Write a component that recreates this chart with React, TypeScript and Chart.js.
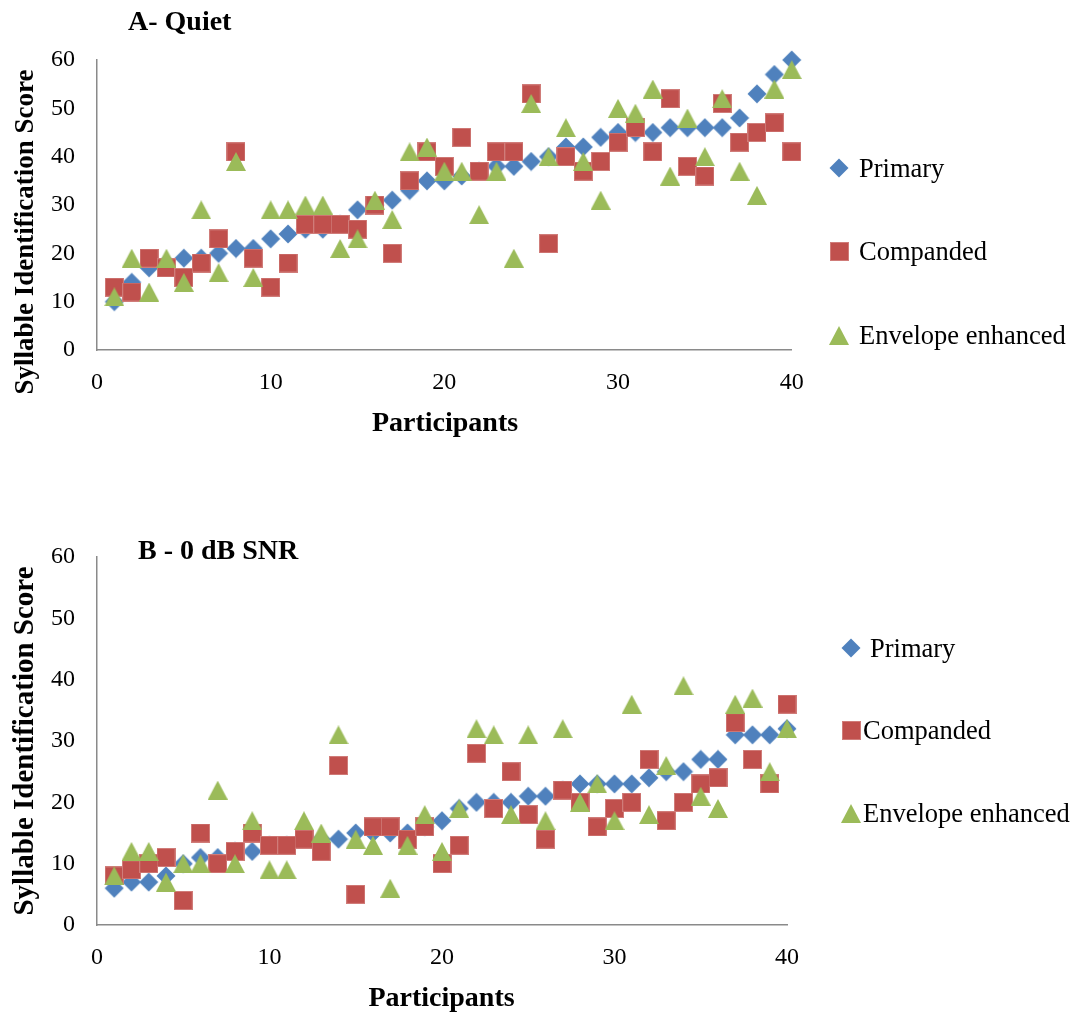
import React, { useEffect, useRef } from "react";
import { Chart, registerables } from "chart.js";

Chart.register(...registerables);

// ---------- data ----------
const participants = [
  1, 2, 3, 4, 5, 6, 7, 8, 9, 10, 11, 12, 13, 14, 15, 16, 17, 18, 19, 20,
  21, 22, 23, 24, 25, 26, 27, 28, 29, 30, 31, 32, 33, 34, 35, 36, 37, 38, 39, 40,
];

const seriesNames = ["Primary", "Companded", "Envelope enhanced"];

// A - Quiet
const quietPrimary = [
  10, 14, 17, 18, 19, 19, 20, 21, 21, 23, 24, 25, 25, 26, 29, 30, 31, 33, 35, 35,
  36, 37, 38, 38, 39, 40, 42, 42, 44, 45, 45, 45, 46, 46, 46, 46, 48, 53, 57, 60,
];
const quietCompanded = [
  13, 12, 19, 17, 15, 18, 23, 41, 19, 13, 18, 26, 26, 26, 25, 30, 20, 35, 41, 38,
  44, 37, 41, 41, 53, 22, 40, 37, 39, 43, 46, 41, 52, 38, 36, 51, 43, 45, 47, 41,
];
const quietEnvelope = [
  11, 19, 12, 19, 14, 29, 16, 39, 15, 29, 29, 30, 30, 21, 23, 31, 27, 41, 42, 37,
  37, 28, 37, 19, 51, 40, 46, 39, 31, 50, 49, 54, 36, 48, 40, 52, 37, 32, 54, 58,
];

// B - 0 dB SNR
const snrPrimary = [
  6, 7, 7, 8, 10, 11, 11, 12, 12, 13, 13, 14, 14, 14, 15, 15, 15, 15, 16, 17,
  19, 20, 20, 20, 21, 21, 22, 23, 23, 23, 23, 24, 25, 25, 27, 27, 31, 31, 31, 32,
];
const snrCompanded = [
  8, 9, 10, 11, 4, 15, 10, 12, 15, 13, 13, 14, 12, 26, 5, 16, 16, 14, 16, 10,
  13, 28, 19, 25, 18, 14, 22, 20, 16, 19, 20, 27, 17, 20, 23, 24, 33, 27, 23, 36,
];
const snrEnvelope = [
  8, 12, 12, 7, 10, 10, 22, 10, 17, 9, 9, 17, 15, 31, 14, 13, 6, 13, 18, 12,
  19, 32, 31, 18, 31, 17, 32, 20, 23, 17, 36, 18, 26, 39, 21, 19, 36, 37, 25, 32,
];

const chartTitles = ["A- Quiet", "B - 0 dB SNR"];
const xAxisTitle = "Participants";
const yAxisTitle = "Syllable Identification Score";

// ---------- styling ----------
const FONT = '"Liberation Serif", "Times New Roman", serif';
const COLORS = ["#4F81BD", "#C0504D", "#9BBB59"];
const AXIS_COLOR = "#8a8a8a";

function makeMarker(kind: string, color: string): HTMLCanvasElement {
  const c = document.createElement("canvas");
  const ctx = c.getContext("2d")!;
  if (kind === "diamond") {
    c.width = 20;
    c.height = 20;
    ctx.fillStyle = color;
    ctx.beginPath();
    ctx.moveTo(10, 0.5);
    ctx.lineTo(19.5, 10);
    ctx.lineTo(10, 19.5);
    ctx.lineTo(0.5, 10);
    ctx.closePath();
    ctx.fill();
  } else if (kind === "square") {
    c.width = 19;
    c.height = 19;
    ctx.fillStyle = color;
    ctx.fillRect(0, 0, 19, 19);
    ctx.strokeStyle = "rgba(255,255,255,0.25)";
    ctx.lineWidth = 1;
    ctx.strokeRect(0.5, 0.5, 18, 18);
  } else {
    c.width = 20;
    c.height = 19;
    ctx.fillStyle = color;
    ctx.beginPath();
    ctx.moveTo(10, 0);
    ctx.lineTo(20, 19);
    ctx.lineTo(0, 19);
    ctx.closePath();
    ctx.fill();
  }
  return c;
}

const decorPlugin = {
  id: "decor",
  afterDraw(chart: any, _args: any, opts: any) {
    const ctx = chart.ctx as CanvasRenderingContext2D;
    const oy = opts.offsetY || 0;
    ctx.save();
    ctx.fillStyle = "#000";
    ctx.textBaseline = "alphabetic";

    // chart title
    ctx.font = `bold ${opts.title.size}px ${FONT}`;
    ctx.textAlign = "left";
    ctx.fillText(opts.title.text, opts.title.x, opts.title.y - oy);

    // x title
    ctx.font = `bold ${opts.xTitle.size}px ${FONT}`;
    ctx.textAlign = "center";
    ctx.fillText(opts.xTitle.text, opts.xTitle.x, opts.xTitle.y - oy);

    // y title
    ctx.save();
    ctx.font = `bold ${opts.yTitle.size}px ${FONT}`;
    ctx.translate(opts.yTitle.x, opts.yTitle.y - oy);
    ctx.rotate(-Math.PI / 2);
    ctx.textAlign = "center";
    ctx.fillText(opts.yTitle.text, 0, 0);
    ctx.restore();

    // legend
    ctx.font = `${opts.legendSize}px ${FONT}`;
    ctx.textAlign = "left";
    chart.data.datasets.forEach((ds: any, i: number) => {
      const it = opts.legend[i];
      const img = ds.pointStyle as HTMLCanvasElement;
      ctx.drawImage(img, Math.round(it.mx - img.width / 2), Math.round(it.my - oy - img.height / 2));
      ctx.fillText(ds.label, it.tx, it.my - oy + 9);
    });
    ctx.restore();
  },
};

function buildConfig(
  series: number[][],
  markers: HTMLCanvasElement[],
  layout: { top: number; right: number; xAxisHeight: number },
  decor: any
): any {
  const datasets = series.map((vals, i) => ({
    label: seriesNames[i],
    data: participants.map((p, j) => ({ x: p, y: vals[j] })),
    pointStyle: markers[i],
    backgroundColor: COLORS[i],
    borderColor: COLORS[i],
    showLine: false,
    clip: false,
    order: 3 - i,
  }));
  const tickFont = { family: FONT, size: 24 };
  return {
    type: "scatter",
    data: { datasets },
    options: {
      animation: false,
      responsive: false,
      devicePixelRatio: 1,
      events: [],
      layout: { padding: { top: layout.top, right: layout.right, left: 0, bottom: 0 } },
      plugins: {
        legend: { display: false },
        title: { display: false },
        tooltip: { enabled: false },
        decor,
      },
      scales: {
        x: {
          type: "linear",
          min: 0,
          max: 40,
          grid: { display: false, drawTicks: false },
          border: { display: true, color: AXIS_COLOR, width: 1.5 },
          ticks: { stepSize: 10, font: tickFont, color: "#000", padding: 18, maxRotation: 0 },
          afterFit: (s: any) => {
            s.height = layout.xAxisHeight;
          },
        },
        y: {
          type: "linear",
          min: 0,
          max: 60,
          grid: { display: false, drawTicks: false },
          border: { display: true, color: AXIS_COLOR, width: 1.5 },
          ticks: { stepSize: 10, font: tickFont, color: "#000", padding: 22 },
          afterFit: (s: any) => {
            s.width = 97;
          },
        },
      },
    },
    plugins: [decorPlugin],
  };
}

const A_TOP = 0;
const A_H = 470;
const B_TOP = 470;
const B_H = 544;

export default function App() {
  const refA = useRef<HTMLCanvasElement | null>(null);
  const refB = useRef<HTMLCanvasElement | null>(null);

  useEffect(() => {
    const markers = [
      makeMarker("diamond", COLORS[0]),
      makeMarker("square", COLORS[1]),
      makeMarker("triangle", COLORS[2]),
    ];
    const chartA = new Chart(
      refA.current!,
      buildConfig(
        [quietPrimary, quietCompanded, quietEnvelope],
        markers,
        { top: 60, right: 1076 - 791.7, xAxisHeight: A_H - 350 },
        {
          offsetY: A_TOP,
          title: { text: chartTitles[0], x: 128, y: 30, size: 28 },
          xTitle: { text: xAxisTitle, x: 445, y: 431, size: 28 },
          yTitle: { text: yAxisTitle, x: 33, y: 232, size: 27 },
          legendSize: 26.5,
          legend: [
            { mx: 839, my: 168, tx: 859 },
            { mx: 839, my: 251, tx: 859 },
            { mx: 839, my: 335, tx: 859 },
          ],
        }
      )
    );
    const chartB = new Chart(
      refB.current!,
      buildConfig(
        [snrPrimary, snrCompanded, snrEnvelope],
        markers,
        { top: 557 - B_TOP, right: 1076 - 787, xAxisHeight: B_TOP + B_H - 925 },
        {
          offsetY: B_TOP,
          title: { text: chartTitles[1], x: 138, y: 559, size: 28 },
          xTitle: { text: xAxisTitle, x: 441.5, y: 1006, size: 28 },
          yTitle: { text: yAxisTitle, x: 33, y: 741, size: 29 },
          legendSize: 26.5,
          legend: [
            { mx: 851, my: 648, tx: 870 },
            { mx: 851, my: 730, tx: 863 },
            { mx: 851, my: 813, tx: 863 },
          ],
        }
      )
    );
    return () => {
      chartA.destroy();
      chartB.destroy();
    };
  }, []);

  return (
    <div style={{ position: "absolute", left: 0, top: 0, width: 1076, height: 1014, background: "#fff" }}>
      <canvas
        ref={refA}
        width={1076}
        height={A_H}
        style={{ position: "absolute", left: 0, top: A_TOP, width: 1076, height: A_H }}
      />
      <canvas
        ref={refB}
        width={1076}
        height={B_H}
        style={{ position: "absolute", left: 0, top: B_TOP, width: 1076, height: B_H }}
      />
    </div>
  );
}
